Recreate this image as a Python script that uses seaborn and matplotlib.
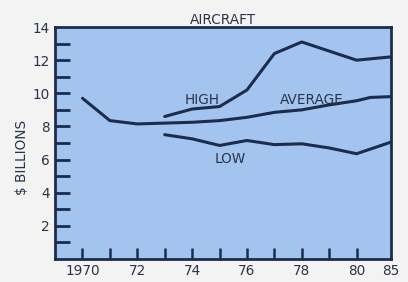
import matplotlib
matplotlib.use("Agg")
import matplotlib.pyplot as plt
import seaborn as sns
import pandas as pd
import numpy as np

# ---- data ----
avg_years = [1970, 1971, 1972, 1973, 1974, 1975, 1976, 1977, 1978, 1979, 1980, 1982, 1985]
avg_vals = [9.7, 8.35, 8.15, 8.2, 8.25, 8.35, 8.55, 8.85, 9.0, 9.3, 9.55, 9.75, 9.8]

high_years = [1973, 1974, 1975, 1976, 1977, 1978, 1979, 1980, 1985]
high_vals = [8.6, 9.05, 9.2, 10.2, 12.4, 13.1, 12.55, 12.0, 12.2]

low_years = [1973, 1974, 1975, 1976, 1977, 1978, 1979, 1980, 1985]
low_vals = [7.5, 7.25, 6.85, 7.15, 6.9, 6.95, 6.7, 6.35, 7.05]

tick_years = [1970, 1972, 1974, 1976, 1978, 1980, 1985]
tick_labels = ["1970", "72", "74", "76", "78", "80", "85"]
minor_years = list(range(1970, 1981))
y_ticks = [2, 4, 6, 8, 10, 12, 14]
y_labels = ["2", "4", "6", "8", "10", "12", "14"]

title = "AIRCRAFT"
ylabel = "$ BILLIONS"


def axis_pos(year):
    # broken axis: 1980-1985 compressed
    year = np.asarray(year, dtype=float)
    return np.where(year <= 1980, year, 1980 + (year - 1980) * 0.25)


frames = []
for name, yrs, vals in [("AVERAGE", avg_years, avg_vals),
                        ("HIGH", high_years, high_vals),
                        ("LOW", low_years, low_vals)]:
    frames.append(pd.DataFrame({"series": name, "x": axis_pos(yrs), "value": vals}))
df = pd.concat(frames, ignore_index=True)

sns.set_theme(style="white")
plt.rcParams["font.family"] = ["DejaVu Sans"]

line_color = "#1c2d4c"
text_color = "#2a3448"
fs = 9.8

fig = plt.figure(figsize=(4.08, 2.82), dpi=100, facecolor="#f3f3f3")
ax = fig.add_axes([0.135, 0.082, 0.823, 0.822])
ax.set_facecolor("#a2c4ef")

sns.lineplot(data=df, x="x", y="value", units="series", estimator=None,
             color=line_color, linewidth=2.2, ax=ax, legend=False)

ax.set_xlim(1969.0, float(axis_pos(1985)))
ax.set_ylim(0, 14)

ax.set_xticks(axis_pos(tick_years))
ax.set_xticklabels(tick_labels)
ax.set_xticks(axis_pos(minor_years), minor=True)
ax.set_yticks(y_ticks)
ax.set_yticklabels(y_labels)
ax.set_yticks(list(range(1, 14, 2)), minor=True)

ax.tick_params(axis="y", which="both", left=True, direction="in", length=11, width=2,
               color=line_color, labelsize=fs, labelcolor=text_color, pad=4)
ax.tick_params(axis="x", which="both", bottom=True, direction="in", length=8, width=1.8,
               color=line_color, labelsize=fs, labelcolor=text_color, pad=4)
# hide tick marks that sit on the frame (14 on y, 85 on x)
for t in ax.yaxis.get_major_ticks():
    if abs(t.get_loc() - 14) < 1e-6:
        t.tick1line.set_visible(False)
for t in ax.xaxis.get_major_ticks():
    if t.get_loc() > 1980.5:
        t.tick1line.set_visible(False)

for s in ax.spines.values():
    s.set_color(line_color)
    s.set_linewidth(2)

ax.set_xlabel("")
ax.set_ylabel("")
ax.set_title(title, fontsize=fs, color=text_color, pad=2)
fig.text(0.055, 0.44, ylabel, rotation=90, ha="center", va="center",
         fontsize=fs, color=text_color)

ax.text(1974.35, 9.6, "HIGH", fontsize=fs, color=text_color, ha="center", va="center")
ax.text(1978.35, 9.6, "AVERAGE", fontsize=fs, color=text_color, ha="center", va="center")
ax.text(1975.4, 6.05, "LOW", fontsize=fs, color=text_color, ha="center", va="center")

fig.savefig("out.png", dpi=100, facecolor=fig.get_facecolor())
